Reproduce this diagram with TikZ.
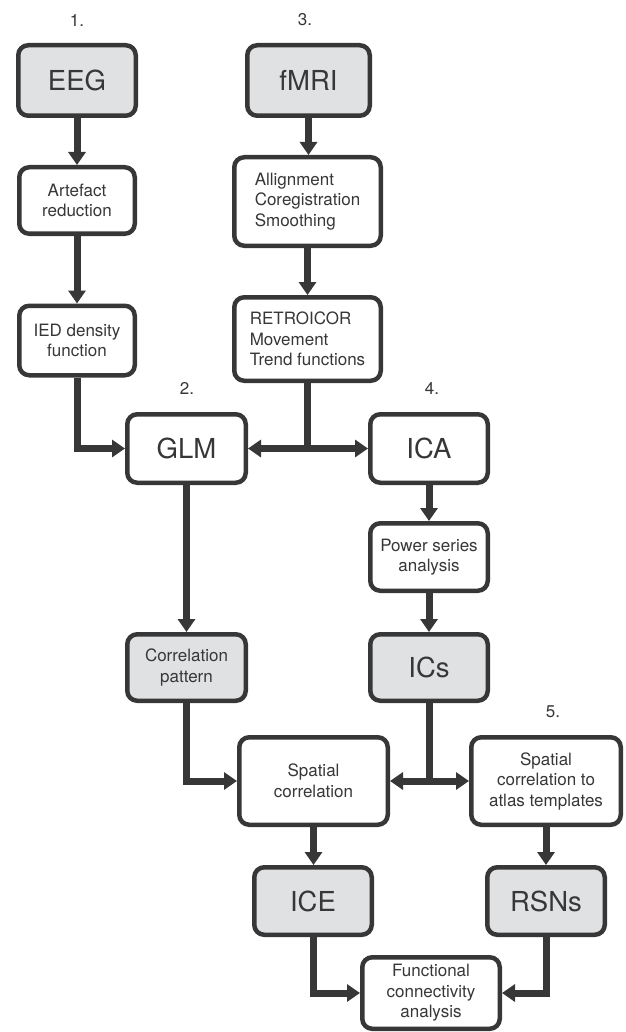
\documentclass[tikz,border=0pt]{standalone}
\usepackage{fontspec}
\setmainfont{TeX Gyre Heros}
\usetikzlibrary{arrows.meta}
\definecolor{linegray}{RGB}{55,55,55}
\definecolor{datagray}{RGB}{224,225,227}

\begin{document}
\begin{tikzpicture}[x=1pt,y=-1pt,
	box/.style={draw=linegray, line width=4.5pt, rounded corners=10pt, fill=white, inner sep=0pt, align=center, text=linegray, font=\fontsize{17}{20.5}\selectfont},
	data/.style={fill=datagray},
	big/.style={font=\fontsize{27.5}{30}\selectfont},
	num/.style={text=linegray, font=\fontsize{17}{20}\selectfont},
	conn/.style={draw=linegray, line width=7pt},
	arr/.style={conn, -{Triangle[width=17pt,length=13pt]}}]
\useasboundingbox (0,0) rectangle (625,1032);

% step numbers
\node[num] (n1) at (77,20) {1.};
\node[num] (n2) at (187,388) {2.};
\node[num] (n3) at (305,20) {3.};
\node[num] (n4) at (432,388) {4.};
\node[num] (n5) at (553,712) {5.};

% EEG branch
\node[box, data, big, minimum width=117.5, minimum height=70.5] (eeg) at (77,80.5) {EEG};
\node[box, minimum width=115.5, minimum height=66.5] (art) at (77,200.5) {Artefact\\reduction};
\node[box, minimum width=115.5, minimum height=69.5] (ied) at (77,340.5) {IED density\\function};

% fMRI branch
\node[box, data, big, minimum width=122.5, minimum height=70.5] (fmri) at (308.5,80.5) {fMRI};
\node[box, align=left, minimum width=146.5, minimum height=88.5] (prep) at (307.5,201.5) {Allignment\\Coregistration\\Smoothing};
\node[box, align=left, minimum width=146.5, minimum height=83.5] (retro) at (307.5,339) {RETROICOR\\Movement\\Trend functions};

\node[box, big, minimum width=118.5, minimum height=68.5] (glm) at (186.5,448.5) {GLM};
\node[box, big, minimum width=117.5, minimum height=68.5] (ica) at (429,448.5) {ICA};
\node[box, minimum width=117.5, minimum height=67.5] (pow) at (429,557) {Power series\\analysis};
\node[box, data, minimum width=118.5, minimum height=66.5] (corr) at (186.5,667.5) {Correlation\\pattern};
\node[box, data, big, minimum width=117.5, minimum height=66.5] (ics) at (429,667.5) {ICs};

\node[box, minimum width=148.5, minimum height=87.5] (spat) at (313.5,781) {Spatial\\correlation};
\node[box, minimum width=149.5, minimum height=87.5] (atlas) at (546,781) {Spatial\\correlation to\\atlas templates};
\node[box, data, big, minimum width=117.5, minimum height=67.5] (ice) at (313,901) {ICE};
\node[box, data, big, minimum width=117.5, minimum height=67.5] (rsn) at (546,901) {RSNs};
\node[box, minimum width=137.5, minimum height=71.5] (func) at (431,993) {Functional\\connectivity\\analysis};

% connectors
\draw[arr] (eeg) -- (art);
\draw[arr] (art) -- (ied);
\draw[arr] (ied) |- (glm);
\draw[arr] (fmri) -- (fmri |- prep.north);
\draw[arr] (prep) -- (retro);
\coordinate (fork1) at (retro.south |- glm.east);
\draw[conn] (retro) -- (fork1);
\draw[arr] (fork1) -- (glm);
\draw[arr] (fork1) -- (ica);
\draw[arr] (glm) -- (corr);
\draw[arr] (ica) -- (pow);
\draw[arr] (pow) -- (ics);
\draw[arr] (corr) |- (spat);
\coordinate (fork2) at (ics.south |- spat.east);
\draw[conn] (ics) -- (fork2);
\draw[arr] (fork2) -- (spat);
\draw[arr] (fork2) -- (atlas);
\draw[arr] (spat) -- (spat |- ice.north);
\draw[arr] (atlas) -- (rsn);
\draw[arr] (ice) |- (func);
\draw[arr] (rsn) |- (func);

\end{tikzpicture}
\end{document}
